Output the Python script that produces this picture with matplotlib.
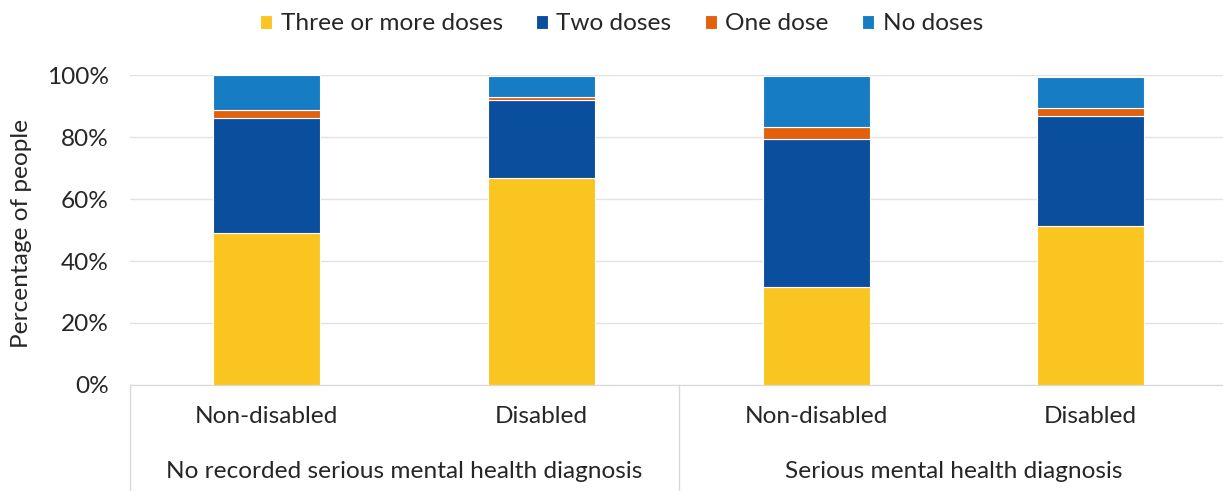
import numpy as np
import matplotlib.pyplot as plt
from matplotlib.ticker import PercentFormatter
from matplotlib.transforms import blended_transform_factory

# dose shares (%) per bar
subgroups = ["Non-disabled", "Disabled", "Non-disabled", "Disabled"]
groups = ["No recorded serious mental health diagnosis", "Serious mental health diagnosis"]
three_plus = [49.0, 66.8, 31.6, 51.3]
two_doses = [37.1, 25.1, 47.8, 35.5]
one_dose = [2.6, 1.0, 3.8, 2.6]
no_doses = [11.3, 6.8, 16.5, 10.0]

series = [
    ("Three or more doses", three_plus, "#FAC520"),
    ("Two doses", two_doses, "#0A4E9E"),
    ("One dose", one_dose, "#E1610D"),
    ("No doses", no_doses, "#167CC3"),
]

plt.rcParams['font.family'] = ['Lato', 'DejaVu Sans']
txt = "#262626"
fs = 17.6

fig = plt.figure(figsize=(12.23, 4.91), dpi=100)
ax = fig.add_axes([0.106, 0.216, 0.898, 0.631])

x = np.arange(len(subgroups))
bottom = np.zeros(len(subgroups))
for name, vals, col in series:
    ax.bar(x, vals, 0.39, bottom=bottom, color=col, edgecolor="white",
           linewidth=0.8, label=name, zorder=3)
    bottom += np.array(vals)

ax.set_xlim(-0.5, 3.5)
ax.set_ylim(0, 100)
ax.set_yticks(np.arange(0, 101, 20))
ax.yaxis.set_major_formatter(PercentFormatter(decimals=0))
ax.grid(axis="y", color="#E2E2E2", linewidth=1, zorder=0)
for s in ["top", "right", "left"]:
    ax.spines[s].set_visible(False)
ax.spines["bottom"].set_color("#D9D9D9")
ax.tick_params(axis="y", length=0, labelsize=fs, labelcolor=txt, pad=15)
ax.set_xticks(x)
ax.set_xticklabels(subgroups)
ax.tick_params(axis="x", length=0, labelsize=fs, labelcolor=txt, pad=15)
fig.text(22 / 1223, 1 - 233 / 491, "Percentage of people", rotation=90,
         ha="center", va="center", fontsize=fs, color=txt)

# group labels and separators under the axis
trans = blended_transform_factory(ax.transData, ax.transAxes)
for i, g in enumerate(groups):
    ax.text(2 * i + 0.5, -0.28, g, transform=trans, ha="center", va="center",
            fontsize=fs, color=txt)
for xs in [-0.5, 1.5, 3.5]:
    ax.plot([xs, xs], [0, -0.35], transform=trans, color="#D9D9D9",
            linewidth=1, clip_on=False)

fig.legend(loc="center", bbox_to_anchor=(0.508, 1 - 24 / 491), ncol=4, frameon=False,
           fontsize=fs, handlelength=0.5, handleheight=0.5, handletextpad=0.35,
           columnspacing=1.35, labelcolor=txt)

fig.savefig("out.png", dpi=100)
